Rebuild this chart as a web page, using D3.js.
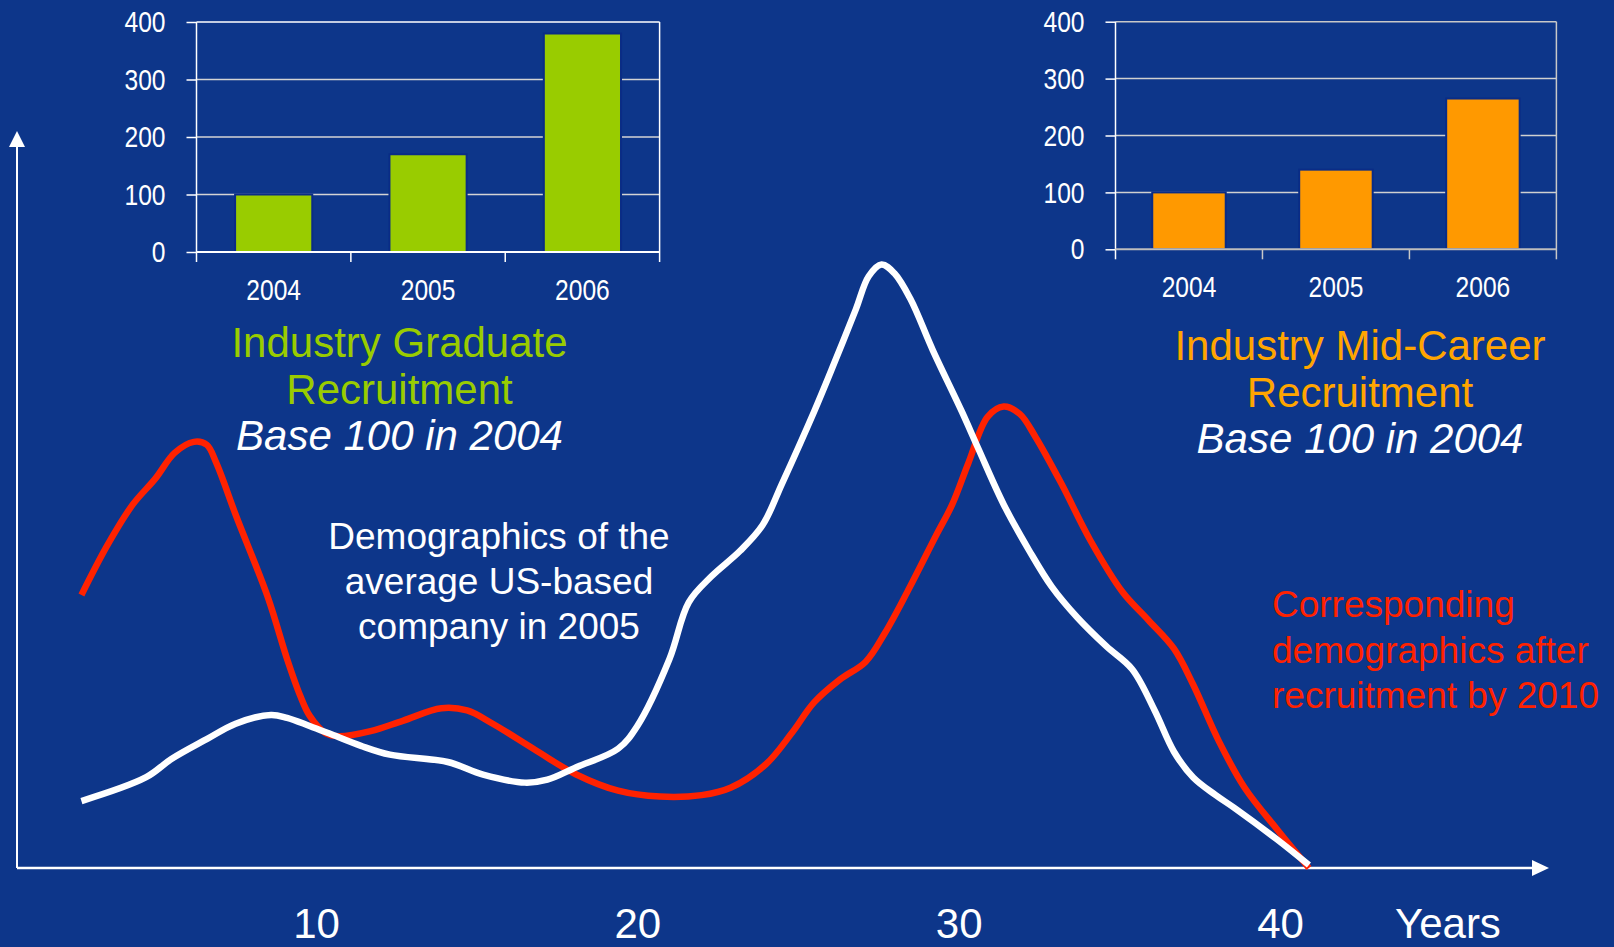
<!DOCTYPE html>
<html>
<head>
<meta charset="utf-8">
<script src="https://cdn.jsdelivr.net/npm/d3@7"></script>
<style>
  html, body { margin: 0; padding: 0; background: #0d368a; }
  #chart { width: 1614px; height: 947px; }
  text { font-family: "Liberation Sans", Arial, sans-serif; }
</style>
</head>
<body>
<div id="chart"></div>
<script>
// bar charts (index, base 100 in 2004)
const barYears = ['2004', '2005', '2006'];
const graduateIndex = [100, 170, 380];
const midCareerIndex = [100, 140, 265];
const barTicks = [0, 100, 200, 300, 400];

// main chart: age axis
const ageTicks = [10, 20, 30, 40];

// demographics of the average US-based company in 2005 (white)
const company2005Age = [2.7, 4.7, 5.5, 6.6, 7.5, 8.6, 9.1, 9.8, 10.4, 11.4, 12.3, 14.1, 15.2, 16.5, 17.2, 18.1,
  19.4, 20.0, 21.0, 21.6, 22.3, 23.2, 23.9, 24.5, 25.5, 26.1, 26.8, 27.2, 27.6, 28.0, 28.5, 29.2, 30.1, 30.6,
  31.4, 32.2, 32.9, 33.7, 34.6, 35.4, 36.1, 36.7, 37.3, 38.0, 38.6, 39.9, 40.9];
const company2005Share = [9.1, 12.3, 14.8, 17.5, 19.6, 20.8, 20.4, 19.3, 18.3, 16.6, 15.4, 14.4, 12.7, 11.6, 12.0, 13.7,
  16.2, 19.3, 28.4, 36.1, 39.6, 43.1, 46.6, 52.2, 62.0, 68.3, 75.9, 80.4, 82.0, 80.8, 77.3, 70.3, 62.0, 57.1,
  49.4, 43.1, 38.2, 34.0, 30.1, 27.0, 21.4, 15.8, 12.3, 9.9, 8.1, 3.9, 0.4];

// corresponding demographics after recruitment by 2010 (red)
const after2010Age = [2.7, 3.5, 4.3, 5.0, 5.6, 6.2, 6.6, 6.9, 7.5, 8.5, 9.1, 9.5, 9.8, 10.3, 10.7, 11.7, 12.7, 13.9,
  14.7, 15.5, 16.8, 18.1, 19.4, 20.7, 22.0, 22.9, 24.0, 24.8, 25.5, 26.3, 27.1, 27.7, 28.4, 29.3, 29.8, 30.3,
  30.9, 31.4, 31.9, 32.4, 33.2, 34.1, 35.1, 35.9, 36.7, 37.3, 38.1, 38.9, 39.9, 40.9];
const after2010Share = [37.1, 43.8, 49.4, 52.9, 56.4, 57.9, 57.5, 55.0, 48.0, 36.8, 28.4, 23.5, 20.7, 18.3, 17.9, 18.6, 20.0, 21.7,
  21.4, 19.6, 16.1, 12.7, 10.5, 9.7, 9.9, 10.9, 14.1, 18.3, 22.5, 25.6, 28.0, 31.9, 37.5, 45.2, 49.4, 55.0,
  61.3, 62.7, 61.7, 58.5, 52.2, 44.5, 37.5, 33.7, 29.8, 24.9, 17.2, 10.9, 5.3, 0.0];

class RecruitmentChart {
  constructor(id) {
    this.id = id;
    this.width = 1614;
    this.height = 947;
    this.bg = '#0d368a';
    this.narrow = 0.82; // the small charts use a narrow face
    this.svg = null;
  }
  init() {
    this.svg = d3.select(`#${this.id}`)
      .append('svg')
      .attr('width', this.width)
      .attr('height', this.height)
      .attr('viewBox', `0 0 ${this.width} ${this.height}`)
      .style('background-color', this.bg);
    // age scale and headcount scale of the main chart
    this.x = d3.scaleLinear().domain([10, 40]).range([316, 1280]);
    this.y = d3.scaleLinear().domain([0, 100]).range([868, 132]);
    return this;
  }
  render() {
    this.renderBarChart({
      left: 196.5, right: 659.6, zero: 252, top: 22,
      fill: '#99cc00', frame: '#ffffff', grid: '#d4d4d4'
    }, graduateIndex);
    this.renderBarChart({
      left: 1115.5, right: 1556.4, zero: 249.3, top: 21.7,
      fill: '#ff9900', frame: '#c8c8c8', grid: '#d0d0d0'
    }, midCareerIndex);
    this.renderTitles();
    this.renderAxes();
    this.renderLines();
    return this;
  }
  renderBarChart(opt, values) {
    const g = this.svg.append('g');
    const x = d3.scaleBand().domain(barYears).range([opt.left, opt.right])
      .paddingInner(0.5).paddingOuter(0.25);
    const y = d3.scaleLinear().domain([0, 400]).range([opt.zero, opt.top]);
    const step = x.step();
    const k = this.narrow;

    // gridlines
    g.selectAll('line.grid')
      .data(barTicks.slice(1))
      .join('line')
      .attr('class', 'grid')
      .attr('x1', opt.left).attr('x2', opt.right)
      .attr('y1', d => y(d)).attr('y2', d => y(d))
      .attr('stroke', d => d === 400 ? opt.frame : opt.grid)
      .attr('stroke-width', 1.5);

    // category ticks / frame
    g.selectAll('line.cat')
      .data(d3.range(barYears.length + 1))
      .join('line')
      .attr('class', 'cat')
      .attr('x1', i => opt.left + i * step).attr('x2', i => opt.left + i * step)
      .attr('y1', i => (i === 0 || i === barYears.length) ? opt.top : opt.zero)
      .attr('y2', opt.zero + 10)
      .attr('stroke', i => i === 0 ? '#ffffff' : opt.frame)
      .attr('stroke-width', 1.5);

    // bars
    g.selectAll('rect')
      .data(values)
      .join('rect')
      .attr('x', (d, i) => x(barYears[i]))
      .attr('y', d => y(d))
      .attr('width', x.bandwidth())
      .attr('height', d => opt.zero - y(d))
      .attr('fill', opt.fill)
      .attr('stroke', '#0a2c86')
      .attr('stroke-width', 2);

    // y axis
    const yAxis = g.append('g')
      .attr('transform', `translate(${opt.left},0)`)
      .call(d3.axisLeft(y).tickValues(barTicks).tickSizeInner(10).tickSizeOuter(0).tickPadding(21));
    yAxis.select('.domain').remove();
    yAxis.selectAll('line').attr('stroke', '#ffffff').attr('stroke-width', 1.5);
    yAxis.selectAll('text')
      .attr('transform', `translate(-31,0) scale(${k},1)`)
      .attr('x', 0)
      .attr('fill', '#ffffff')
      .style('font-size', '30px');

    // baseline
    g.append('line')
      .attr('x1', opt.left).attr('x2', opt.right)
      .attr('y1', opt.zero).attr('y2', opt.zero)
      .attr('stroke', opt.frame === '#ffffff' ? '#ffffff' : '#bdbdbd')
      .attr('stroke-width', 2);

    // year labels
    g.selectAll('text.year')
      .data(barYears)
      .join('text')
      .attr('class', 'year')
      .attr('transform', d => `translate(${x(d) + x.bandwidth() / 2},${opt.zero + 48}) scale(${k},1)`)
      .attr('text-anchor', 'middle')
      .attr('fill', '#ffffff')
      .style('font-size', '30px')
      .text(d => d);
  }
  renderTitles() {
    const block = (cx, y0, gap, lines, size, anchor) => {
      const t = this.svg.append('text')
        .attr('text-anchor', anchor)
        .style('font-size', `${size}px`);
      lines.forEach((l, i) => {
        t.append('tspan')
          .attr('x', cx)
          .attr('y', y0 + i * gap)
          .attr('fill', l.color)
          .style('font-style', l.italic ? 'italic' : 'normal')
          .text(l.text);
      });
    };
    block(399.5, 357, 46.6, [
      { text: 'Industry Graduate', color: '#99cc00' },
      { text: 'Recruitment', color: '#99cc00' },
      { text: 'Base 100 in 2004', color: '#ffffff', italic: true }
    ], 42, 'middle');
    block(1360, 360, 46.6, [
      { text: 'Industry Mid-Career', color: '#ffa500' },
      { text: 'Recruitment', color: '#ffa500' },
      { text: 'Base 100 in 2004', color: '#ffffff', italic: true }
    ], 42, 'middle');
    block(499, 549, 44.8, [
      { text: 'Demographics of the', color: '#ffffff' },
      { text: 'average US-based', color: '#ffffff' },
      { text: 'company in 2005', color: '#ffffff' }
    ], 37, 'middle');
    block(1272, 617, 45.6, [
      { text: 'Corresponding', color: '#ff2200' },
      { text: 'demographics after', color: '#ff2200' },
      { text: 'recruitment by 2010', color: '#ff2200' }
    ], 37, 'start');
  }
  renderAxes() {
    const g = this.svg.append('g');
    const y0 = this.y(0);
    // x axis with arrow
    g.append('line')
      .attr('x1', 17).attr('x2', 1534)
      .attr('y1', y0).attr('y2', y0)
      .attr('stroke', '#ffffff').attr('stroke-width', 2.5);
    g.append('polygon')
      .attr('points', `1532,${y0 - 8} 1549,${y0} 1532,${y0 + 8}`)
      .attr('fill', '#ffffff');
    // y axis with arrow
    g.append('line')
      .attr('x1', 17).attr('x2', 17)
      .attr('y1', y0).attr('y2', 145)
      .attr('stroke', '#ffffff').attr('stroke-width', 2);
    g.append('polygon')
      .attr('points', `9,147 17,131 25,147`)
      .attr('fill', '#ffffff');

    const ax = g.append('g')
      .attr('transform', `translate(0,${y0})`)
      .call(d3.axisBottom(this.x).tickValues(ageTicks).tickSize(0));
    ax.select('.domain').remove();
    ax.selectAll('text')
      .attr('y', 70)
      .attr('dy', 0)
      .attr('fill', '#ffffff')
      .style('font-size', '42px')
      .style('font-family', '"Liberation Sans", Arial, sans-serif');

    g.append('text')
      .attr('x', 1395)
      .attr('y', y0 + 70)
      .attr('fill', '#ffffff')
      .style('font-size', '42px')
      .text('Years');
  }
  renderLines() {
    const line = d3.line()
      .x(d => this.x(d[0]))
      .y(d => this.y(d[1]))
      .curve(d3.curveCatmullRom.alpha(0.5));
    const series = [
      { color: '#ff2200', pts: d3.zip(after2010Age, after2010Share) },
      { color: '#ffffff', pts: d3.zip(company2005Age, company2005Share) }
    ];
    this.svg.append('g')
      .selectAll('path')
      .data(series)
      .join('path')
      .attr('d', d => line(d.pts))
      .attr('fill', 'none')
      .attr('stroke', d => d.color)
      .attr('stroke-width', 6.5)
      .attr('stroke-linejoin', 'round');
  }
}

new RecruitmentChart('chart').init().render();
</script>
</body>
</html>
